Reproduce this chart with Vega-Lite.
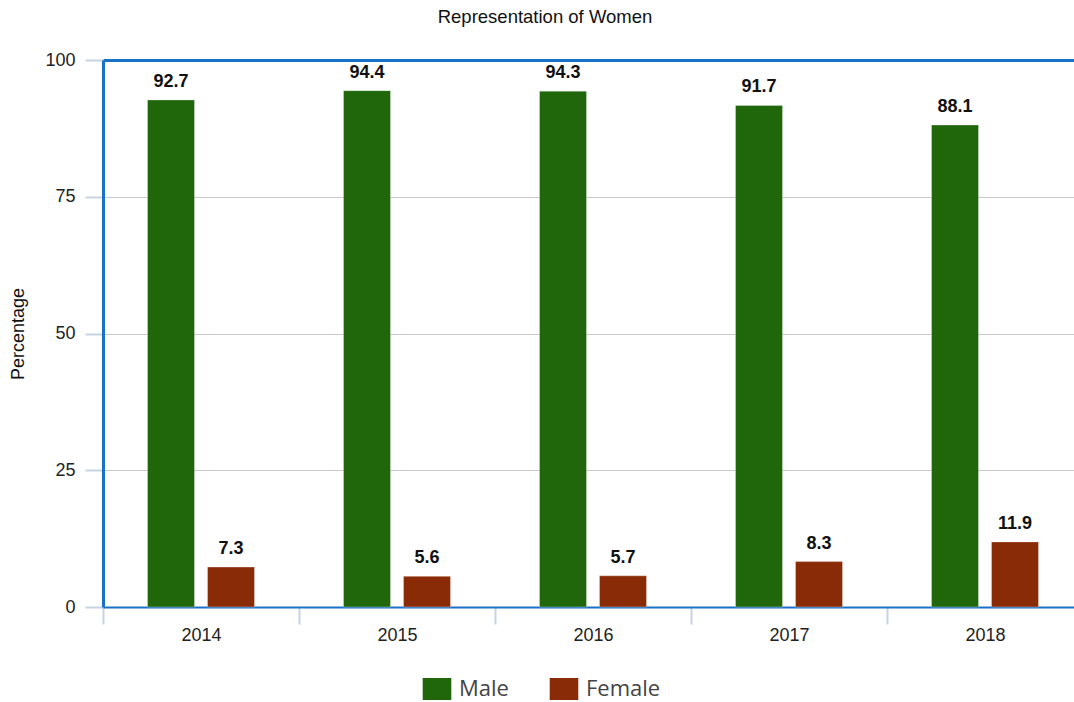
{
  "$schema": "https://vega.github.io/schema/vega-lite/v6.json",
  "autosize": {"type": "none"},
  "padding": {"left": 103, "top": 60, "right": 0, "bottom": 95},
  "width": 980,
  "height": 547,
  "title": {
    "text": "Representation of Women",
    "anchor": "middle",
    "frame": "group",
    "dx": -48,
    "offset": 25,
    "font": "Liberation Sans",
    "fontSize": 18.5,
    "fontWeight": "normal",
    "color": "#111"
  },
  "data": {
    "values": [
      {"year": "2014", "gender": "Male", "value": 92.7},
      {"year": "2014", "gender": "Female", "value": 7.3},
      {"year": "2015", "gender": "Male", "value": 94.4},
      {"year": "2015", "gender": "Female", "value": 5.6},
      {"year": "2016", "gender": "Male", "value": 94.3},
      {"year": "2016", "gender": "Female", "value": 5.7},
      {"year": "2017", "gender": "Male", "value": 91.7},
      {"year": "2017", "gender": "Female", "value": 8.3},
      {"year": "2018", "gender": "Male", "value": 88.1},
      {"year": "2018", "gender": "Female", "value": 11.9}
    ]
  },
  "encoding": {
    "x": {
      "field": "year",
      "type": "nominal",
      "scale": {"paddingInner": 0, "paddingOuter": 0},
      "axis": {
        "title": null,
        "labelAngle": 0,
        "labelFont": "Liberation Sans",
        "labelFontSize": 18,
        "labelColor": "#222",
        "labelPadding": 2,
        "tickBand": "extent",
        "tickSize": 17,
        "tickColor": "#c5d3e3",
        "tickWidth": 2,
        "domainColor": "#1a72c8",
        "domainWidth": 2
      }
    },
    "xOffset": {
      "field": "gender",
      "type": "nominal",
      "sort": ["Male", "Female"],
      "scale": {"paddingInner": 0.217, "paddingOuter": 0.742}
    },
    "y": {
      "field": "value",
      "type": "quantitative",
      "scale": {"domain": [0, 100], "nice": false},
      "axis": {
        "title": "Percentage",
        "titleFont": "Liberation Sans",
        "titleFontSize": 18,
        "titleFontWeight": "normal",
        "titleColor": "#111",
        "titlePadding": 17,
        "values": [0, 25, 50, 75, 100],
        "labelFont": "Liberation Sans",
        "labelFontSize": 18,
        "labelColor": "#222",
        "labelPadding": 10,
        "tickSize": 18,
        "tickColor": "#c5d3e3",
        "tickWidth": 2,
        "domainColor": "#1a72c8",
        "domainWidth": 3,
        "gridColor": {"condition": {"test": "datum.value == 100", "value": "#1a72c8"}, "value": "#c8c8c8"},
        "gridWidth": {"condition": {"test": "datum.value == 100", "value": 3}, "value": 1}
      }
    }
  },
  "layer": [
    {
      "mark": {"type": "bar", "stroke": "#ffffff", "strokeOpacity": 0.3, "strokeWidth": 1},
      "encoding": {
        "color": {
          "field": "gender",
          "type": "nominal",
          "sort": ["Male", "Female"],
          "scale": {"domain": ["Male", "Female"], "range": ["#1f670a", "#8a2b07"]},
          "legend": {
            "title": null,
            "orient": "none",
            "legendX": 323,
            "legendY": 618,
            "direction": "horizontal",
            "columns": 2,
            "columnPadding": 40,
            "symbolType": "M-1.3,-1H1.3V1H-1.3Z",
            "symbolSize": 484,
            "symbolStrokeWidth": 0,
            "symbolOpacity": 1,
            "labelFont": "Open Sans",
            "labelFontSize": 22,
            "labelColor": "#444",
            "labelOffset": 11,
            "padding": 0
          }
        }
      }
    },
    {
      "mark": {
        "type": "text",
        "baseline": "alphabetic",
        "dy": -13,
        "font": "Liberation Sans",
        "fontSize": 18,
        "fontWeight": "bold",
        "color": "#111"
      },
      "encoding": {"text": {"field": "value", "type": "quantitative", "format": ".1f"}}
    }
  ],
  "config": {"view": {"stroke": null}}
}
